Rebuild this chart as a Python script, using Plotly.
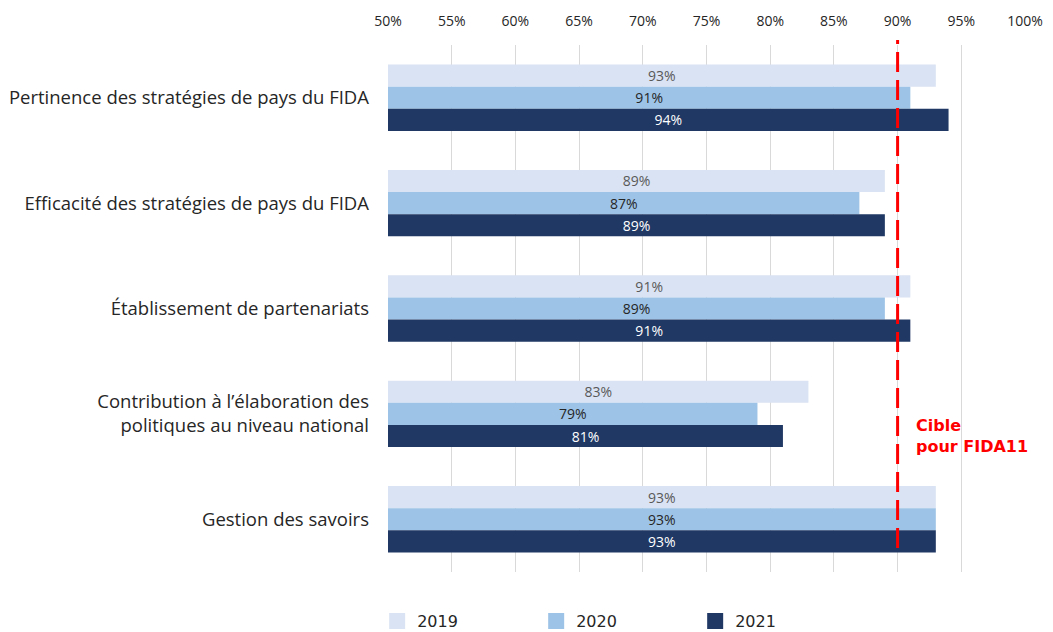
import plotly.graph_objects as go

categories = [
    "Pertinence des stratégies de pays du FIDA",
    "Efficacité des stratégies de pays du FIDA",
    "Établissement de partenariats",
    "Contribution à l’élaboration des<br>politiques au niveau national",
    "Gestion des savoirs",
]
years = ["2019", "2020", "2021"]
values_2019 = [93, 89, 91, 83, 93]
values_2020 = [91, 87, 89, 79, 93]
values_2021 = [94, 89, 91, 81, 93]
target = 90
target_label = "Cible<br>pour FIDA11"
x_ticks = [50, 55, 60, 65, 70, 75, 80, 85, 90, 95, 100]

series = [values_2019, values_2020, values_2021]
colors = ["#DAE3F3", "#9DC3E6", "#203864"]
text_colors = ["#595959", "#262626", "#FFFFFF"]
axis_min = x_ticks[0]

fig = go.Figure()
for yr, vals, c, tc in zip(years, series, colors, text_colors):
    fig.add_trace(go.Bar(
        y=categories, x=[v - axis_min for v in vals], base=axis_min,
        orientation="h", name=yr, showlegend=False,
        marker=dict(color=c, line=dict(width=0)),
        text=[f"{v}%" for v in vals], textposition="inside",
        insidetextanchor="middle", textangle=0, constraintext="none",
        textfont=dict(family="Open Sans", size=14, color=tc),
    ))
for yr, c in zip(years, colors):
    fig.add_trace(go.Scatter(
        x=[None], y=[None], mode="markers", name=yr,
        marker=dict(symbol="square", size=22, color=c),
        showlegend=True,
    ))

fig.add_shape(type="line", xref="x", yref="paper", x0=target, x1=target,
              y0=0.0455, y1=1.0095,
              line=dict(color="#FF0000", width=3, dash="20px,8px"))

fig.add_annotation(x=target, xref="x", y=0.258, yref="paper",
                   text=target_label, showarrow=False, xanchor="left",
                   yanchor="middle", align="left", xshift=16,
                   font=dict(family="DejaVu Sans", size=16, color="#FF0000",
                             weight="bold"))

fig.update_layout(
    width=1045, height=624,
    margin=dict(l=380, r=28, t=37, b=60, autoexpand=False),
    plot_bgcolor="white", paper_bgcolor="white",
    barmode="group", bargap=0.37, bargroupgap=0,
    showlegend=True,
    legend=dict(orientation="h", x=-0.017, xanchor="left", y=-0.093,
                yanchor="middle", entrywidth=114, entrywidthmode="pixels",
                font=dict(family="DejaVu Sans", size=16, color="#262626"),
                itemsizing="trace"),
    font=dict(family="Open Sans", color="#262626"),
)
fig.update_xaxes(side="top", range=[50, 100], tickvals=x_ticks,
                 ticktext=[f"{t}%" for t in x_ticks],
                 showgrid=True, gridcolor="#D9D9D9", gridwidth=1,
                 zeroline=False, showline=False, ticks="",
                 ticklabelstandoff=15, automargin=False,
                 tickfont=dict(family="Open Sans", size=14, color="#262626"))
fig.update_yaxes(autorange="reversed", showgrid=False, showline=False,
                 ticks="", ticklabelstandoff=18, automargin=False,
                 tickfont=dict(family="Open Sans", size=18.5, color="#262626"))

fig.write_html("out.html")
